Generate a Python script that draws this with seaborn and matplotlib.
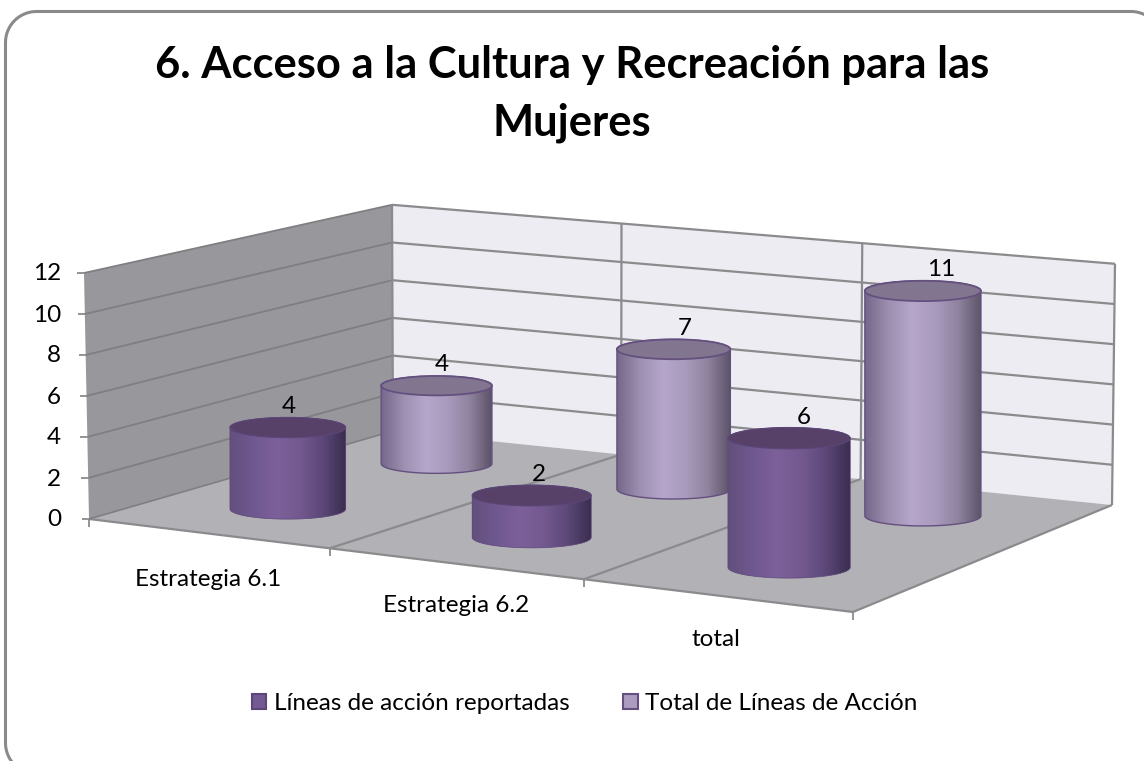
import numpy as np
import pandas as pd
import matplotlib
matplotlib.use("Agg")
import matplotlib.pyplot as plt
from matplotlib.patches import Ellipse, Patch, Polygon, PathPatch
from matplotlib.path import Path
import seaborn as sns

# Chart values
title = "6. Acceso a la Cultura y Recreación para las\nMujeres"
categories = ["Estrategia 6.1", "Estrategia 6.2", "total"]
reportadas = [4, 2, 6]
totales = [4, 7, 11]
series_names = ["Líneas de acción reportadas", "Total de Líneas de Acción"]
y_ticks = [0, 2, 4, 6, 8, 10, 12]

sns.set_theme(style="white")
plt.rcParams["font.family"] = ["Lato", "DejaVu Sans"]

df = pd.DataFrame({
    "category": categories * 2,
    "slot": [0, 1, 2] * 2,
    "series": [series_names[0]] * 3 + [series_names[1]] * 3,
    "depth": [0.25] * 3 + [0.75] * 3,
    "value": reportadas + totales,
})

fig = plt.figure(figsize=(11.44, 7.61), dpi=100, facecolor="white")
ax = fig.add_axes([0, 0, 1, 1])

# 1. Oblique projection: floor corners (slot, depth) -> pixels
src = [(0, 0), (3, 0), (0, 1), (3, 1)]
dst = [(89, 519), (853, 612), (393, 431), (1112, 505)]
A, b = [], []
for (u, v), (px, py) in zip(src, dst):
    A.append([u, v, 1, 0, 0, 0, -u * px, -v * px])
    A.append([0, 0, 0, u, v, 1, -u * py, -v * py])
    b += [px, py]
H = np.append(np.linalg.solve(np.array(A, float), np.array(b, float)), 1).reshape(3, 3)


def bilinear(u, d, c00, c30, c01, c31):
    t = u / 3
    return (1 - d) * ((1 - t) * c00 + t * c30) + d * ((1 - t) * c01 + t * c31)


def unit_at(u, d):
    return bilinear(u, d, 20.5, 22.4, 18.85, 20.1)


def project(u, d, val=0):
    uw = u + 0.01 * u * (3 - u)
    w = H @ np.array([uw, d, 1.0])
    lean = bilinear(u, d, -5, 1, -1, 3)
    return w[0] / w[2] + lean * val / 12, w[1] / w[2] - unit_at(u, d) * val


# 2. Walls, floor and grid
grid_c = "#8b8b8d"
ax.add_patch(Polygon([project(0, 0), project(0, 1), project(0, 1, 12), project(0, 0, 12)],
                     fc="#98979c", ec="none", zorder=1))
ax.add_patch(Polygon([project(0, 1), project(3, 1), project(3, 1, 12), project(0, 1, 12)],
                     fc="#edecf2", ec="none", zorder=1))
ax.add_patch(Polygon([project(0, 0), project(3, 0), project(3, 1), project(0, 1)],
                     fc="#b2b1b6", ec="none", zorder=1.5))


def seg(p, q, lw=1.6, c=grid_c, z=2):
    ax.plot([p[0], q[0]], [p[1], q[1]], color=c, lw=lw, solid_capstyle="butt", zorder=z)


for v in y_ticks:
    if v > 0:
        seg(project(0, 0, v), project(0, 1, v), c="#7f7f82", lw=1.3)
        seg(project(0, 1, v), project(3, 1, v))
    p = project(0, 0, v)
    seg((p[0] - 7, p[1]), p, lw=1.3)
    ax.text(61, p[1] + 1, str(v), ha="right", va="center", fontsize=17.5, color="black", zorder=6)
seg(project(0, 1), project(0, 1, 12))
seg(project(3, 1), project(3, 1, 12))
for i in [1, 2]:
    seg(project(i, 1), project(i, 1, 12))
    seg(project(i, 0), project(i, 1))
seg(project(0, 0), project(3, 0))
seg(project(3, 0), project(3, 1))
seg(project(0, 0), project(0, 1), c="#7f7f82", lw=1.2)
for i in range(4):
    p = project(i, 0)
    seg(p, (p[0], p[1] + 8), lw=1.3)

cat_pos = [(208, 579), (456, 606), (716, 639)]
for name, (tx, ty) in zip(categories, cat_pos):
    ax.text(tx, ty, name, ha="center", va="center", fontsize=17.5, color="black")

# 3. Cylinders: one seaborn bar each, then shaded with a clipped gradient
looks = {
    series_names[0]: dict(
        bar="#735a93", top="#574168", edge="#5b4678", lw=0.5,
        stops=["#63507d", "#6f5890", "#7d6099", "#73598f", "#5c4878", "#3a2d50"]),
    series_names[1]: dict(
        bar="#ab9cc0", top="#82758f", edge="#64507f", lw=1.0,
        stops=["#75688a", "#9c8fb0", "#b5a6cb", "#a99bbd", "#8f839f", "#5b5368"]),
}

for _, row in df.sort_values("depth", ascending=False).iterrows():
    look = looks[row["series"]]
    u, d = row["slot"] + 0.5, row["depth"]
    cx, base = project(u, d)
    unit = unit_at(u, d)
    rx = 2.84 * unit
    ry = 0.175 * rx
    z = 3 if d > 0.5 else 4
    sns.barplot(x=[cx], y=[-unit * row["value"]], bottom=base, width=2 * rx, native_scale=True,
                color=look["bar"], saturation=1, errorbar=None, linewidth=0, ax=ax, zorder=z)
    bar = ax.patches[-1]
    left, right = bar.get_x(), bar.get_x() + bar.get_width()
    top_y = base + bar.get_height()

    th = np.linspace(np.pi, 0, 60)
    lower = np.c_[cx + rx * np.cos(th), base + ry * np.sin(th)]
    upper = np.c_[cx + rx * np.cos(th[::-1]), top_y - ry * np.sin(th[::-1])]
    outline = np.vstack([lower, upper, lower[:1]])

    grad = np.array(sns.blend_palette(look["stops"], n_colors=200))[None, :, :]
    im = ax.imshow(grad, extent=(left, right, base + ry, top_y - ry), aspect="auto", zorder=z + 0.1)
    im.set_clip_path(PathPatch(Path(outline), transform=ax.transData))
    ax.add_patch(Polygon(outline, closed=True, fc="none", ec=look["edge"], lw=look["lw"], zorder=z + 0.2))
    ax.add_patch(Ellipse((cx, top_y), 2 * rx, 2 * ry, fc=look["top"], ec=look["edge"], lw=look["lw"] + 0.3, zorder=z + 0.3))
    ax.text(cx + (cx - 250) * 0.027, top_y - 21, str(row["value"]), ha="center", va="center",
            fontsize=17.5, color="black", zorder=6)

# 4. Title, legend, frame
ax.text(572, 94, title, ha="center", va="center", fontsize=31.3, fontweight="bold",
        color="black", linespacing=1.54)
handles = [Patch(fc=looks[n]["bar"], ec=looks[n]["edge"], lw=1.5) for n in series_names]
ax.legend(handles, series_names, ncol=2, frameon=False, loc="center",
          bbox_to_anchor=(584.5 / 1144, 1 - 703.5 / 761), fontsize=17.5,
          handlelength=0.6, handleheight=0.6, handletextpad=0.3, columnspacing=2.2,
          labelcolor="black")

# rounded frame, runs off the right and bottom of the picture
x0, y0, x1, y1, r = 5.5, 11.5, 1162, 774, 31
pts = []
for cxr, cyr, a0 in [(x0 + r, y0 + r, 180), (x1 - r, y0 + r, 270), (x1 - r, y1 - r, 0), (x0 + r, y1 - r, 90)]:
    t = np.radians(np.linspace(a0, a0 + 90, 20))
    pts.append(np.c_[cxr + r * np.cos(t), cyr + r * np.sin(t)])
ax.add_patch(Polygon(np.vstack(pts), closed=True, fc="none", ec="#8a8a8a", lw=2.2, zorder=7))

ax.set_xlim(0, 1144)
ax.set_ylim(761, 0)
ax.set_axis_off()

fig.savefig("out.png", dpi=100)
